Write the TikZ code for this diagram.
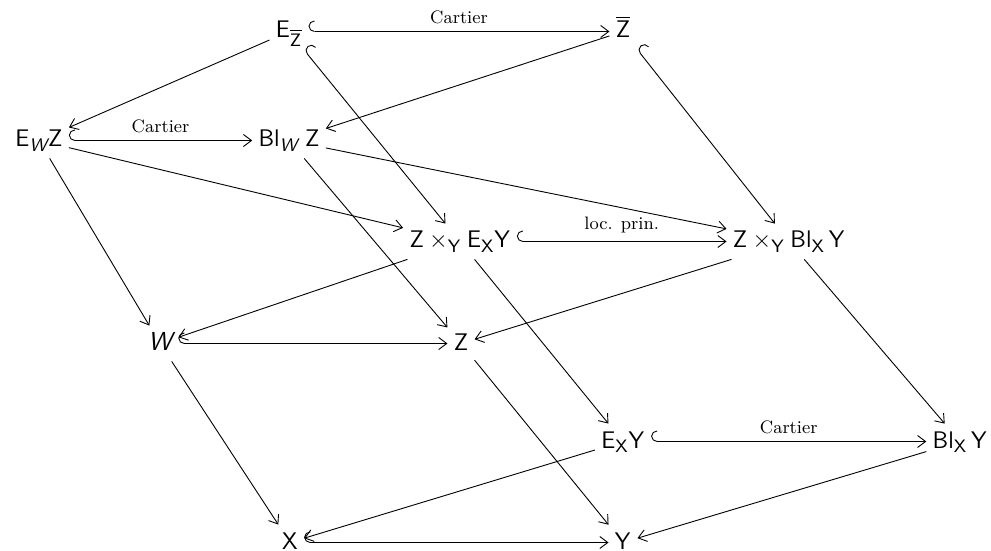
\documentclass[tikz,border=0pt]{standalone}
\usepackage{amsmath}
\usetikzlibrary{arrows.meta}
\newcommand{\sW}{\text{\sffamily\slshape W}}
\tikzset{
  obj/.style={anchor=base, inner sep=3pt, text height=9pt, text depth=2.5pt, font=\fontsize{13}{15}\selectfont},
  map/.style={-{Straight Barb[length=4pt,width=6pt]}, line width=0.45pt},
  inc/.style={{Hooks[right,length=3pt,width=11pt]}-{Straight Barb[length=4pt,width=6pt]}, line width=0.45pt},
  lab/.style={font=\fontsize{9}{10}\selectfont, inner sep=0pt, above=3.5pt}
}
\begin{document}
\begin{tikzpicture}[x=0.5pt, y=-0.5pt]
\useasboundingbox (0,0) rectangle (991,551);
% nodes
\node[obj] (ezb)  at (289,38)  {$\mathsf{E}_{\overline{\mathsf{Z}}}$};
\node[obj] (zb)   at (623,38)  {$\overline{\mathsf{Z}}$};
\node[obj] (ewz)  at (39,147)  {$\mathsf{E}_{\sW}\mathsf{Z}$};
\node[obj] (blwz) at (289,147) {$\mathsf{Bl}_{\sW}\;\mathsf{Z}$};
\node[obj] (zxe)  at (460,248) {$\mathsf{Z}\times_{\mathsf{Y}}\mathsf{E}_{\mathsf{X}}\mathsf{Y}$};
\node[obj] (zxbl) at (789,248) {$\mathsf{Z}\times_{\mathsf{Y}}\mathsf{Bl}_{\mathsf{X}}\,\mathsf{Y}$};
\node[obj] (w)    at (160,350) {$\sW$};
\node[obj] (z)    at (461,350) {$\mathsf{Z}$};
\node[obj] (exy)  at (623,448) {$\mathsf{E}_{\mathsf{X}}\mathsf{Y}$};
\node[obj] (blxy) at (960,448) {$\mathsf{Bl}_{\mathsf{X}}\,\mathsf{Y}$};
\node[obj] (x)    at (290,549) {$\mathsf{X}$};
\node[obj] (y)    at (623,549) {$\mathsf{Y}$};
% connectors
\draw[inc] (ezb) -- node[lab]{Cartier} (zb);
\draw[map] (ezb) -- (ewz);
\draw[inc] (ezb) -- (zxe);
\draw[map] (zb) -- (blwz);
\draw[inc] (zb) -- (zxbl);
\draw[inc] (ewz) -- node[lab]{Cartier} (blwz);
\draw[map] (ewz) -- (zxe);
\draw[map] (ewz) -- (w);
\draw[map] (blwz) -- (zxbl);
\draw[map] (blwz) -- (z);
\draw[inc] (zxe) -- node[lab, above=0.5pt]{loc. prin.} (zxbl);
\draw[map] (zxe) -- (w);
\draw[map] (zxe) -- (exy);
\draw[map] (zxbl) -- (z);
\draw[map] (zxbl) -- (blxy);
\draw[inc] (w) -- (z);
\draw[map] (w) -- (x);
\draw[map] (z) -- (y);
\draw[inc] (exy) -- node[lab]{Cartier} (blxy);
\draw[map] (exy) -- (x);
\draw[map] (blxy) -- (y);
\draw[inc] (x) -- (y);
\end{tikzpicture}
\end{document}
